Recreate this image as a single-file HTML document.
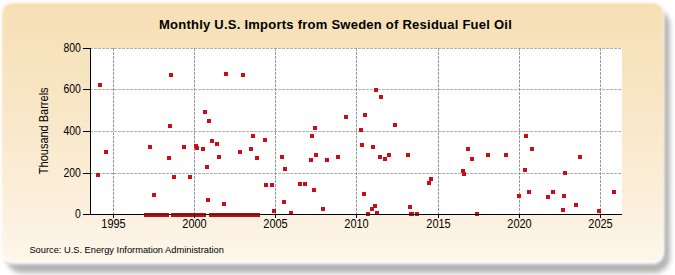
<!DOCTYPE html>
<html><head><meta charset="utf-8"><style>
html,body{margin:0;padding:0;background:#fff;}
svg{display:block;font-family:"Liberation Sans",sans-serif;}
</style></head><body>
<svg width="675" height="275" viewBox="0 0 675 275">
<defs>
<linearGradient id="bg" x1="0" y1="0" x2="0" y2="1">
<stop offset="0" stop-color="#f6dfb4"/>
<stop offset="0.5" stop-color="#f9e8cb"/>
<stop offset="1" stop-color="#fef6ea"/>
</linearGradient>
<filter id="sh" x="-10%" y="-10%" width="120%" height="130%"><feGaussianBlur stdDeviation="2.6"/></filter>
<filter id="sh3" x="-2%" y="-2%" width="104%" height="104%"><feGaussianBlur stdDeviation="1"/></filter>
<filter id="sh2" x="-5%" y="-5%" width="110%" height="110%"><feGaussianBlur stdDeviation="1.5"/></filter>
</defs>
<rect x="6" y="9" width="664" height="264" rx="16" fill="#b4b4b4" filter="url(#sh)"/>
<rect x="2" y="3" width="662" height="261" rx="11" fill="#fff" filter="url(#sh2)"/>
<rect x="2" y="3" width="661.5" height="258" rx="10.5" fill="url(#bg)" filter="url(#sh3)"/>
<rect x="91" y="48" width="531" height="166" fill="#fff"/>
<g stroke-width="1" stroke-dasharray="3,1"><g stroke="#b0b0b0"><line x1="90" y1="173.5" x2="622" y2="173.5"/><line x1="90" y1="131.5" x2="622" y2="131.5"/><line x1="90" y1="89.5" x2="622" y2="89.5"/><line x1="90" y1="48.5" x2="622" y2="48.5"/></g><g stroke="#9c9c9c"><line x1="113.5" y1="48" x2="113.5" y2="214"/><line x1="194.5" y1="48" x2="194.5" y2="214"/><line x1="275.5" y1="48" x2="275.5" y2="214"/><line x1="356.5" y1="48" x2="356.5" y2="214"/><line x1="438.5" y1="48" x2="438.5" y2="214"/><line x1="519.5" y1="48" x2="519.5" y2="214"/><line x1="600.5" y1="48" x2="600.5" y2="214"/></g></g>
<g fill="#b41218"><rect x="144" y="213" width="25" height="4"/><rect x="171" y="213" width="35" height="4"/><rect x="209" y="213" width="51" height="4"/></g>
<g fill="#ce0c18"><rect x="96" y="173" width="4" height="4"/><rect x="98" y="83" width="4" height="4"/><rect x="104" y="150" width="4" height="4"/><rect x="148" y="145" width="4" height="4"/><rect x="152" y="193" width="4" height="4"/><rect x="167" y="156" width="4" height="4"/><rect x="168" y="124" width="4" height="4"/><rect x="169" y="73" width="4" height="4"/><rect x="172" y="175" width="4" height="4"/><rect x="182" y="145" width="4" height="4"/><rect x="188" y="175" width="4" height="4"/><rect x="194" y="144" width="4" height="4"/><rect x="195" y="146" width="4" height="4"/><rect x="201" y="147" width="4" height="4"/><rect x="203" y="110" width="4" height="4"/><rect x="205" y="165" width="4" height="4"/><rect x="206" y="198" width="4" height="4"/><rect x="207" y="119" width="4" height="4"/><rect x="210" y="139" width="4" height="4"/><rect x="215" y="142" width="4" height="4"/><rect x="217" y="155" width="4" height="4"/><rect x="222" y="202" width="4" height="4"/><rect x="224" y="72" width="4" height="4"/><rect x="238" y="150" width="4" height="4"/><rect x="241" y="73" width="4" height="4"/><rect x="249" y="147" width="4" height="4"/><rect x="251" y="134" width="4" height="4"/><rect x="255" y="156" width="4" height="4"/><rect x="263" y="138" width="4" height="4"/><rect x="264" y="183" width="4" height="4"/><rect x="270" y="183" width="4" height="4"/><rect x="272" y="209" width="4" height="4"/><rect x="280" y="155" width="4" height="4"/><rect x="282" y="200" width="4" height="4"/><rect x="283" y="167" width="4" height="4"/><rect x="289" y="211" width="4" height="4"/><rect x="298" y="182" width="4" height="4"/><rect x="303" y="182" width="4" height="4"/><rect x="309" y="158" width="4" height="4"/><rect x="310" y="134" width="4" height="4"/><rect x="312" y="188" width="4" height="4"/><rect x="313" y="126" width="4" height="4"/><rect x="314" y="153" width="4" height="4"/><rect x="321" y="207" width="4" height="4"/><rect x="325" y="158" width="4" height="4"/><rect x="336" y="155" width="4" height="4"/><rect x="344" y="115" width="4" height="4"/><rect x="359" y="128" width="4" height="4"/><rect x="360" y="143" width="4" height="4"/><rect x="362" y="192" width="4" height="4"/><rect x="363" y="113" width="4" height="4"/><rect x="366" y="212" width="4" height="4"/><rect x="370" y="207" width="4" height="4"/><rect x="371" y="145" width="4" height="4"/><rect x="373" y="204" width="4" height="4"/><rect x="374" y="88" width="4" height="4"/><rect x="375" y="211" width="4" height="4"/><rect x="378" y="155" width="4" height="4"/><rect x="379" y="95" width="4" height="4"/><rect x="383" y="157" width="4" height="4"/><rect x="387" y="153" width="4" height="4"/><rect x="393" y="123" width="4" height="4"/><rect x="406" y="153" width="4" height="4"/><rect x="408" y="205" width="4" height="4"/><rect x="409" y="212" width="4" height="4"/><rect x="410" y="212" width="4" height="4"/><rect x="415" y="212" width="4" height="4"/><rect x="427" y="181" width="4" height="4"/><rect x="429" y="177" width="4" height="4"/><rect x="461" y="169" width="4" height="4"/><rect x="462" y="172" width="4" height="4"/><rect x="466" y="147" width="4" height="4"/><rect x="470" y="157" width="4" height="4"/><rect x="475" y="212" width="4" height="4"/><rect x="486" y="153" width="4" height="4"/><rect x="504" y="153" width="4" height="4"/><rect x="517" y="194" width="4" height="4"/><rect x="523" y="168" width="4" height="4"/><rect x="524" y="134" width="4" height="4"/><rect x="527" y="190" width="4" height="4"/><rect x="530" y="147" width="4" height="4"/><rect x="546" y="195" width="4" height="4"/><rect x="551" y="190" width="4" height="4"/><rect x="561" y="208" width="4" height="4"/><rect x="562" y="194" width="4" height="4"/><rect x="563" y="171" width="4" height="4"/><rect x="574" y="203" width="4" height="4"/><rect x="578" y="155" width="4" height="4"/><rect x="597" y="209" width="4" height="4"/><rect x="612" y="190" width="4" height="4"/></g>
<g stroke="#000" stroke-width="1"><line x1="83" y1="214.5" x2="91" y2="214.5"/><line x1="83" y1="173.5" x2="91" y2="173.5"/><line x1="83" y1="131.5" x2="91" y2="131.5"/><line x1="83" y1="89.5" x2="91" y2="89.5"/><line x1="83" y1="48.5" x2="91" y2="48.5"/><line x1="113.5" y1="214" x2="113.5" y2="218"/><line x1="194.5" y1="214" x2="194.5" y2="218"/><line x1="275.5" y1="214" x2="275.5" y2="218"/><line x1="356.5" y1="214" x2="356.5" y2="218"/><line x1="438.5" y1="214" x2="438.5" y2="218"/><line x1="519.5" y1="214" x2="519.5" y2="218"/><line x1="600.5" y1="214" x2="600.5" y2="218"/>
<line x1="90.5" y1="48" x2="90.5" y2="215"/>
<line x1="90" y1="214.5" x2="622" y2="214.5"/>
</g>
<g stroke="#6e0c12" stroke-width="1"><line x1="144" y1="214.5" x2="169" y2="214.5"/><line x1="171" y1="214.5" x2="206" y2="214.5"/><line x1="209" y1="214.5" x2="260" y2="214.5"/></g>
<g fill="#000"><text transform="translate(80.8,218.3) scale(0.95,1.12)" text-anchor="end" font-size="11" font-weight="normal" >0</text><text transform="translate(80.8,177.3) scale(0.95,1.12)" text-anchor="end" font-size="11" font-weight="normal" >200</text><text transform="translate(80.8,135.3) scale(0.95,1.12)" text-anchor="end" font-size="11" font-weight="normal" >400</text><text transform="translate(80.8,93.3) scale(0.95,1.12)" text-anchor="end" font-size="11" font-weight="normal" >600</text><text transform="translate(80.8,52.3) scale(0.95,1.12)" text-anchor="end" font-size="11" font-weight="normal" >800</text><text transform="translate(113.5,227.7) scale(1.0,1.12)" text-anchor="middle" font-size="11" font-weight="normal" >1995</text><text transform="translate(194.5,227.7) scale(1.0,1.12)" text-anchor="middle" font-size="11" font-weight="normal" >2000</text><text transform="translate(275.5,227.7) scale(1.0,1.12)" text-anchor="middle" font-size="11" font-weight="normal" >2005</text><text transform="translate(356.5,227.7) scale(1.0,1.12)" text-anchor="middle" font-size="11" font-weight="normal" >2010</text><text transform="translate(438.5,227.7) scale(1.0,1.12)" text-anchor="middle" font-size="11" font-weight="normal" >2015</text><text transform="translate(519.5,227.7) scale(1.0,1.12)" text-anchor="middle" font-size="11" font-weight="normal" >2020</text><text transform="translate(600.5,227.7) scale(1.0,1.12)" text-anchor="middle" font-size="11" font-weight="normal" >2025</text><text transform="translate(335.5,28.7) scale(1.0,1.04)" text-anchor="middle" font-size="13" font-weight="bold" letter-spacing="0.25">Monthly U.S. Imports from Sweden of Residual Fuel Oil</text><text transform="translate(29.4,252.6) scale(1.0,1.02)" text-anchor="start" font-size="9.3" font-weight="normal" >Source: U.S. Energy Information Administration</text><text transform="translate(48,130.8) rotate(-90) scale(1,1.1)" text-anchor="middle" font-size="11">Thousand Barrels</text></g>
</svg>
</body></html>
